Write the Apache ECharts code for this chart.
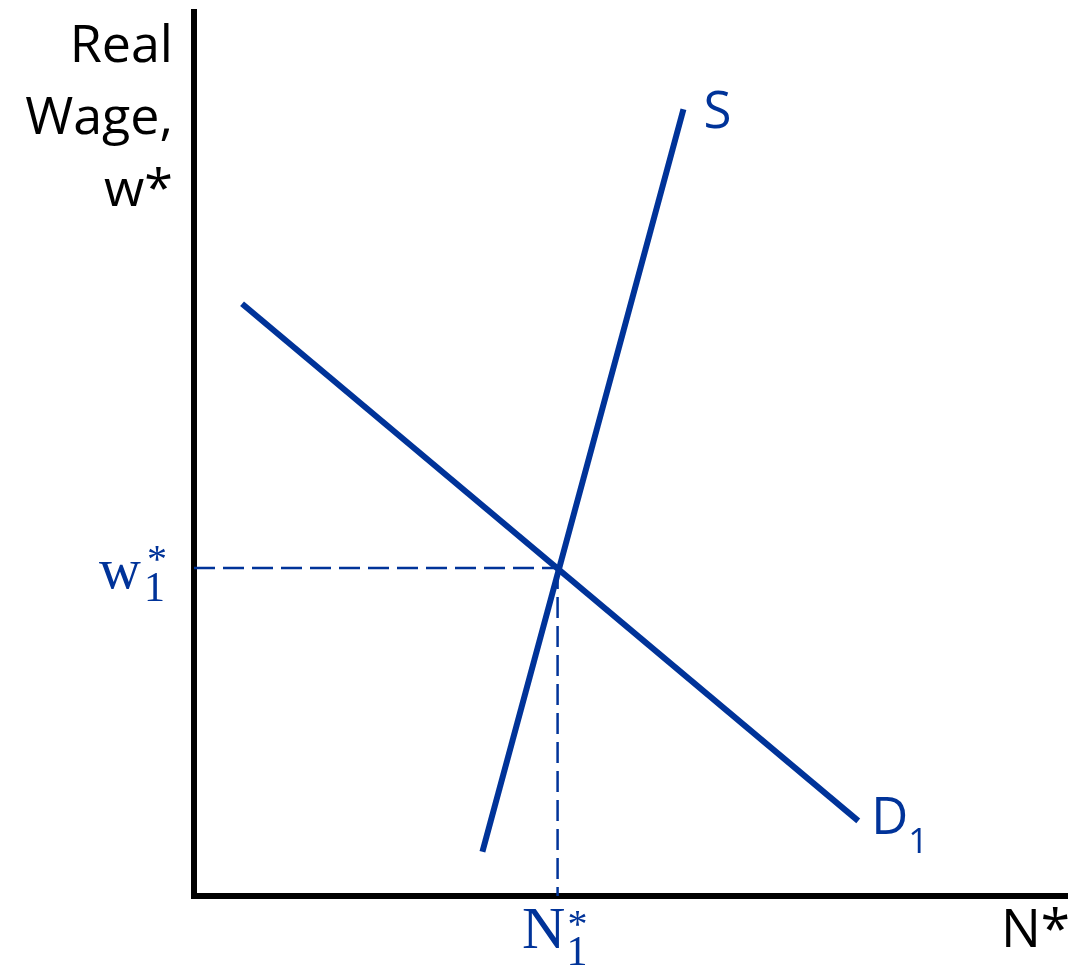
<!DOCTYPE html>
<html>
<head>
<meta charset="utf-8">
<script src="https://cdn.jsdelivr.net/npm/echarts@6/dist/echarts.min.js"></script>
<style>
  html, body { margin: 0; padding: 0; background: #fff; }
  #labour { width: 1068px; height: 969px; }
</style>
</head>
<body>
<div id="labour"></div>
<script>
// labour market: supply S and demand D1, equilibrium (N1*, w1*)
var supplyN = [33, 56];
var supplyW = [5, 89];
var demandN = [5.5, 76];
var demandW = [67, 8.5];
var eqN = 41.6;
var eqW = 37.1;

var blue = '#003399';
var sans = '"Open Sans", sans-serif';
var serif = '"Liberation Serif", serif';

var chart = echarts.init(document.getElementById('labour'));

var option = {
  animation: false,
  grid: { left: 194, right: 0, top: 12, bottom: 73 },
  xAxis: {
    type: 'value', min: 0, max: 100,
    axisLine: { show: true, lineStyle: { color: '#000', width: 6, cap: 'square' } },
    axisTick: { show: false }, axisLabel: { show: false }, splitLine: { show: false }
  },
  yAxis: {
    type: 'value', min: 0, max: 100,
    axisLine: { show: true, lineStyle: { color: '#000', width: 6, cap: 'square' } },
    axisTick: { show: false }, axisLabel: { show: false }, splitLine: { show: false }
  },
  series: [
    {
      name: 'S', type: 'line', showSymbol: false, silent: true,
      lineStyle: { color: blue, width: 6 },
      data: [[supplyN[0], supplyW[0]], [supplyN[1], supplyW[1]]]
    },
    {
      name: 'D1', type: 'line', showSymbol: false, silent: true,
      lineStyle: { color: blue, width: 6 },
      data: [[demandN[0], demandW[0]], [demandN[1], demandW[1]]]
    },
    {
      name: 'w1', type: 'line', showSymbol: false, silent: true, z: 1,
      lineStyle: { color: blue, width: 2.5, type: [21, 8] },
      data: [[0, eqW], [eqN, eqW]]
    },
    {
      name: 'N1', type: 'line', showSymbol: false, silent: true, z: 1,
      lineStyle: { color: blue, width: 2.5, type: [21, 8] },
      data: [[eqN, eqW], [eqN, 0]]
    }
  ]
};
chart.setOption(option);

var eq = chart.convertToPixel({ gridIndex: 0 }, [eqN, eqW]);
var sEnd = chart.convertToPixel({ gridIndex: 0 }, [supplyN[1], supplyW[1]]);
var dEnd = chart.convertToPixel({ gridIndex: 0 }, [demandN[1], demandW[1]]);
var origin = chart.convertToPixel({ gridIndex: 0 }, [0, 0]);

function txt(text, x, y, size, font, color, align) {
  return {
    type: 'text', x: x, y: y, silent: true,
    style: {
      text: text, fill: color, font: size + 'px ' + font,
      align: align || 'left', verticalAlign: 'middle'
    }
  };
}

chart.setOption({
  graphic: [
    // axis titles
    {
      type: 'text', x: origin[0] - 21, y: 119, silent: true,
      style: {
        text: 'Real\nWage,\nw*', fill: '#000', font: '52px ' + sans,
        align: 'right', verticalAlign: 'middle', lineHeight: 72
      }
    },
    txt('N*', 1070, 932, 53, sans, '#000', 'right'),
    // curve labels
    txt('S', sEnd[0] + 20, sEnd[1] + 4, 51, sans, blue),
    txt('D', dEnd[0] + 13, dEnd[1] - 1, 51, sans, blue),
    txt('1', dEnd[0] + 50, dEnd[1] + 22, 35, sans, blue),
    // equilibrium labels
    txt('w', origin[0] - 53, eq[1] + 5, 58, serif, blue, 'right'),
    txt('1', origin[0] - 50, eq[1] + 22, 42, serif, blue),
    txt('*', origin[0] - 47, eq[1] - 7, 40, serif, blue),
    txt('N', eq[0] - 14, origin[1] + 36, 60, serif, blue, 'center'),
    txt('1', eq[0] + 9, origin[1] + 58, 42, serif, blue),
    txt('*', eq[0] + 10, origin[1] + 30, 40, serif, blue)
  ]
});
</script>
</body>
</html>
